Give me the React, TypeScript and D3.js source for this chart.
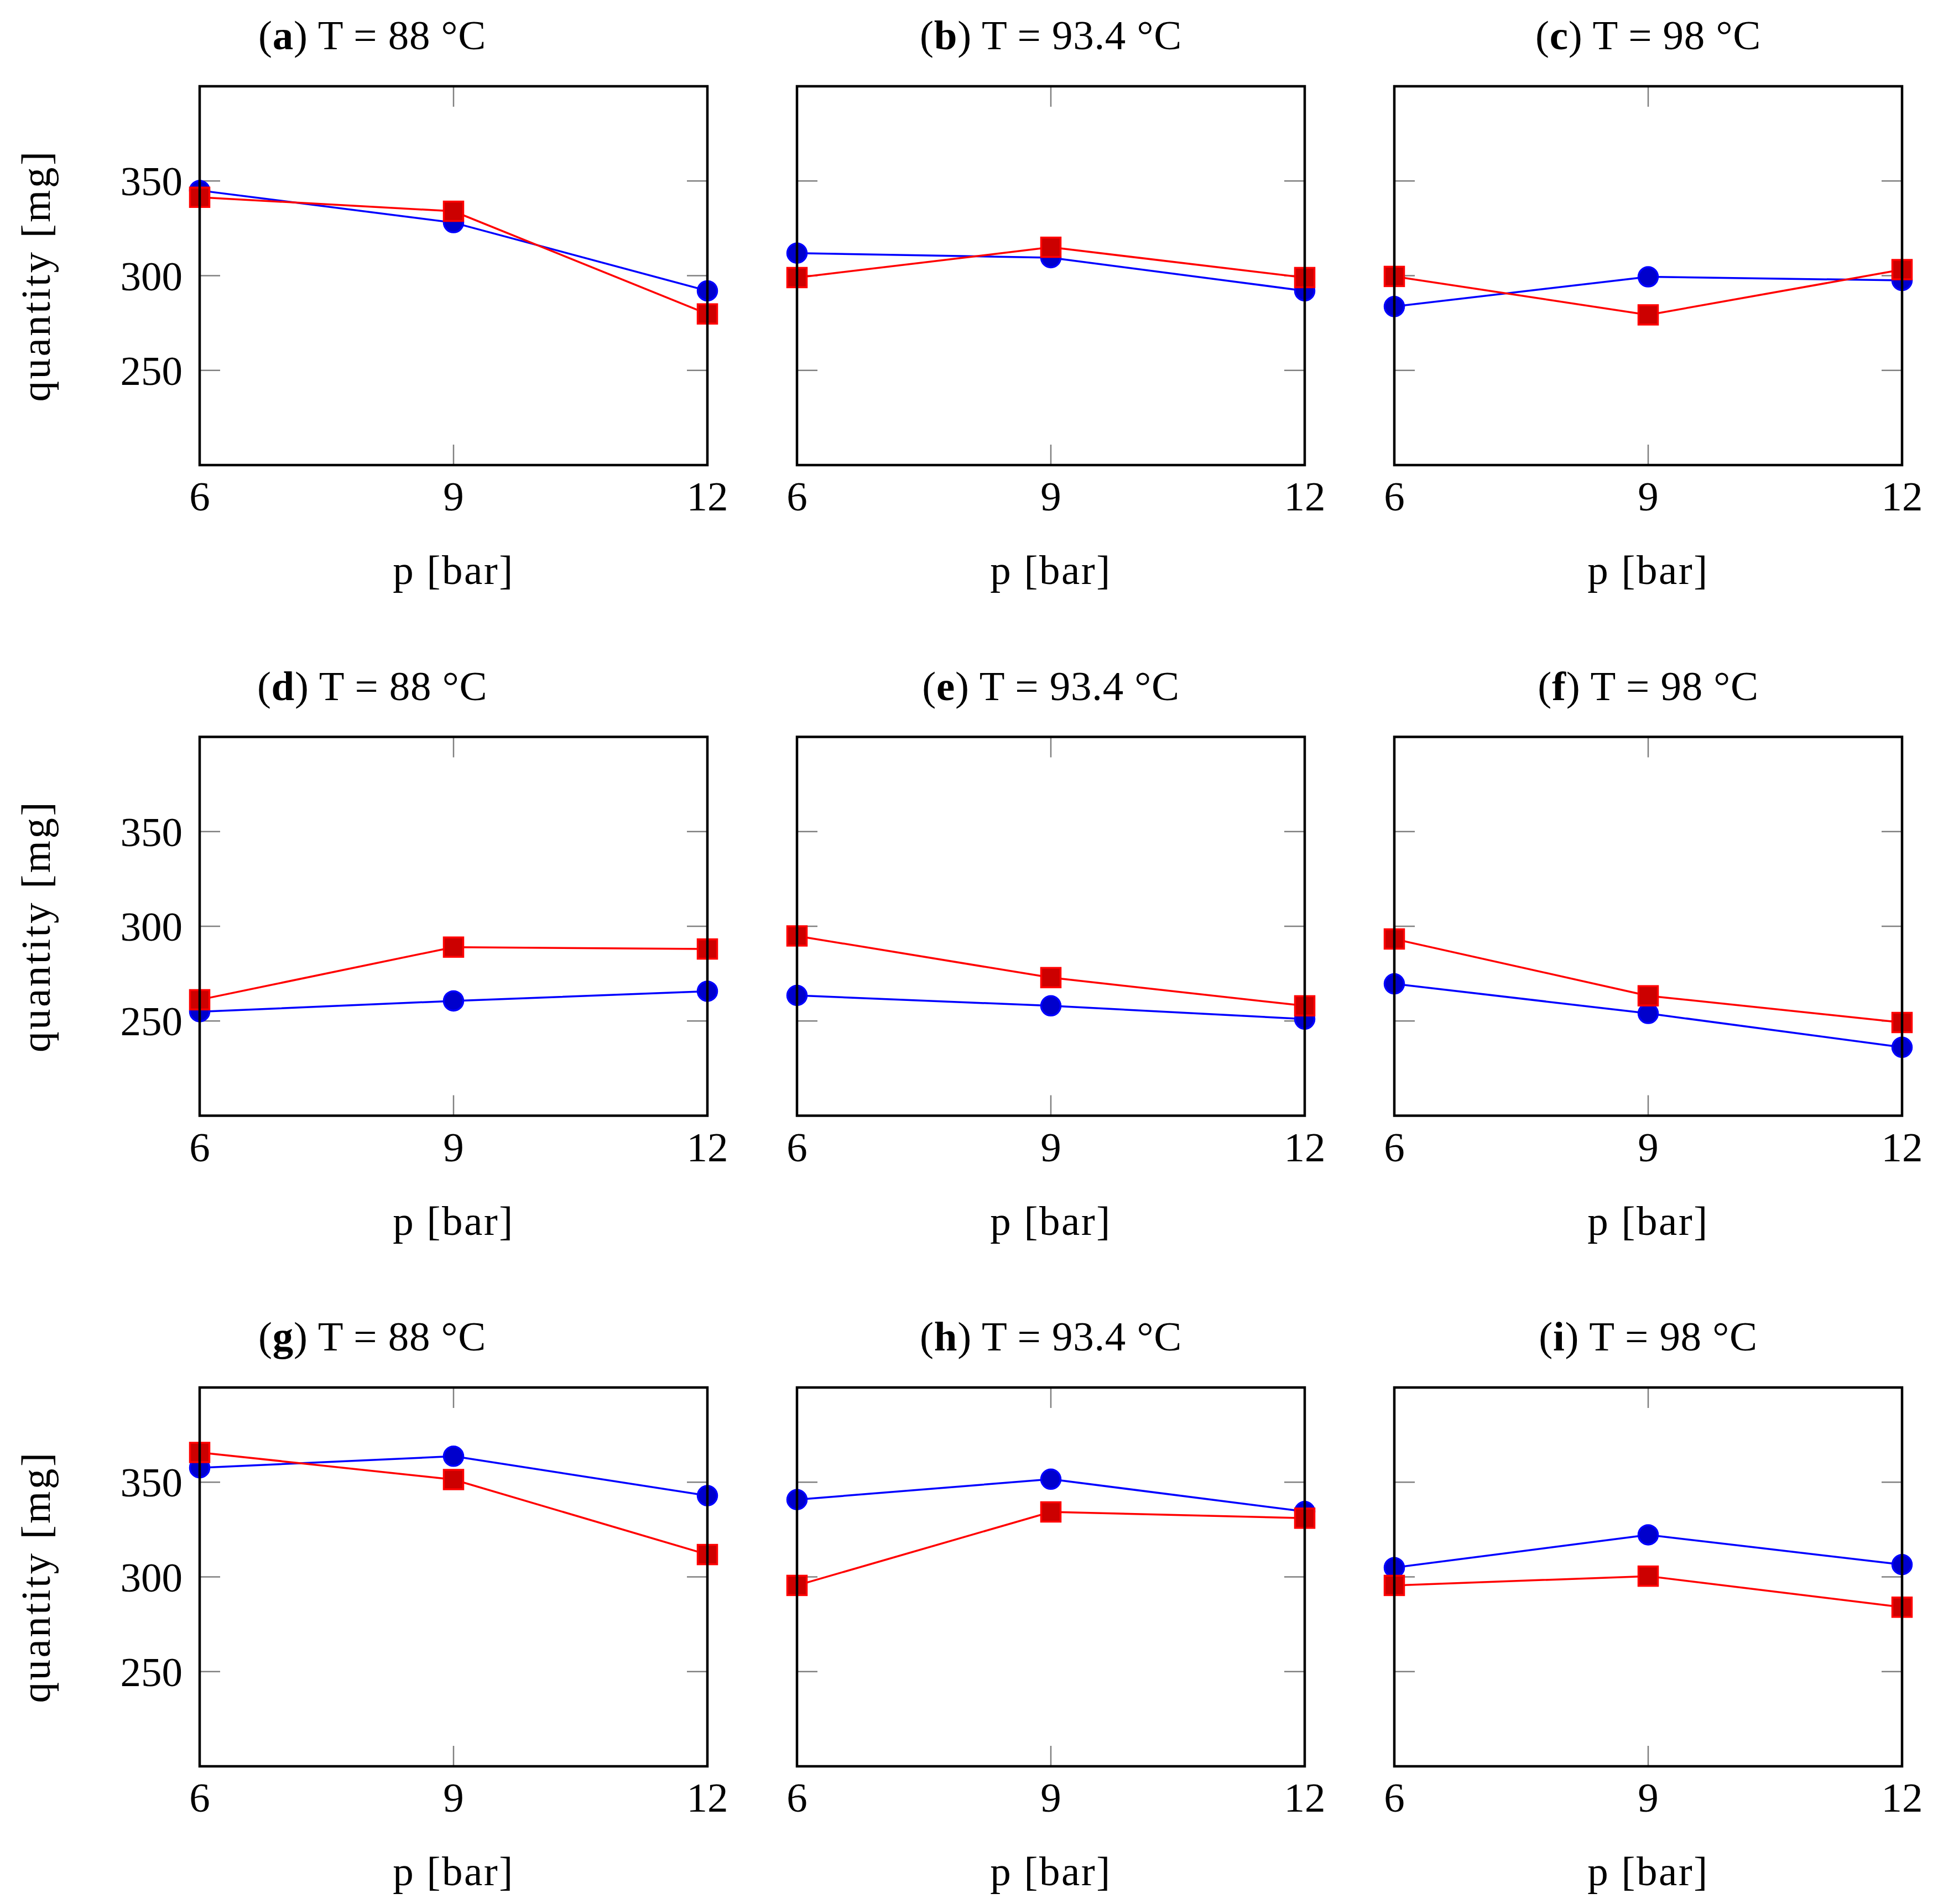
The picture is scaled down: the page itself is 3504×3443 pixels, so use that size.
import * as d3 from "d3";

const pressures = [6, 9, 12];
const yTicks = [250, 300, 350];
const panelLetters = ["a", "b", "c", "d", "e", "f", "g", "h", "i"];
const temperatures = ["88", "93.4", "98"];

// blue circles, one row per panel (a..i), values at p = 6, 9, 12
const blueSeries = [
  [345, 328, 292],
  [311.9, 309.5, 292],
  [283.7, 299.4, 297.5],
  [254.9, 260.6, 265.7],
  [263.5, 258, 251],
  [269.6, 254, 236.1],
  [357.6, 363.7, 342.9],
  [340.8, 351.6, 334.5],
  [304.9, 322.2, 306.5],
];

// red squares
const redSeries = [
  [341.4, 334, 279.8],
  [299, 315, 299],
  [299.6, 279.3, 303.2],
  [261.2, 289, 288],
  [294.9, 272.9, 258],
  [293.3, 263.3, 249.2],
  [365.7, 351.4, 311.8],
  [295.5, 334.3, 331],
  [295.5, 300.4, 284],
];

const W = 3504;
const H = 3443;
const panelW = 918;
const panelH = 685;
const fontSize = 75;
const font = "'Liberation Serif', 'Times New Roman', serif";

function Panel({ idx }) {
  const col = idx % 3;
  const row = Math.floor(idx / 3);
  const left = 361 + col * 1080;
  const top = 156 + row * 1176.5;

  const x = d3.scaleLinear().domain([6, 12]).range([left, left + panelW]);
  const y = d3.scaleLinear().domain([200, 400]).range([top + panelH, top]);

  const line = d3
    .line()
    .x((d, i) => x(pressures[i]))
    .y((d) => y(d));

  const tickLen = 37;
  const titleX = col === 0 ? left + panelW / 2 - 147 : left + panelW / 2;

  return (
    <g>
      <text
        x={titleX}
        y={top - 67}
        textAnchor="middle"
        fontSize={fontSize}
        letterSpacing={0.7}
      >
        (<tspan fontWeight="bold">{panelLetters[idx]}</tspan>) T = {temperatures[col]} °C
      </text>

      {/* ticks */}
      <g stroke="#808080" strokeWidth={2.5}>
        {yTicks.map((t) => (
          <g key={t}>
            <line x1={x(6)} x2={x(6) + tickLen} y1={y(t)} y2={y(t)} />
            <line x1={x(12)} x2={x(12) - tickLen} y1={y(t)} y2={y(t)} />
          </g>
        ))}
        {pressures.map((p) => (
          <g key={p}>
            <line x1={x(p)} x2={x(p)} y1={y(400)} y2={y(400) + tickLen} />
            <line x1={x(p)} x2={x(p)} y1={y(200)} y2={y(200) - tickLen} />
          </g>
        ))}
      </g>

      {/* blue series */}
      <path d={line(blueSeries[idx])} fill="none" stroke="#0000ff" strokeWidth={3.5} />
      {blueSeries[idx].map((v, i) => (
        <circle
          key={i}
          cx={x(pressures[i])}
          cy={y(v)}
          r={17.5}
          fill="#0000cc"
          stroke="#0000ff"
          strokeWidth={3.5}
        />
      ))}

      {/* red series */}
      <path d={line(redSeries[idx])} fill="none" stroke="#ff0000" strokeWidth={3.5} />
      {redSeries[idx].map((v, i) => (
        <rect
          key={i}
          x={x(pressures[i]) - 17.5}
          y={y(v) - 17.5}
          width={35}
          height={35}
          fill="#cc0000"
          stroke="#ff0000"
          strokeWidth={3.5}
        />
      ))}

      {/* frame */}
      <rect
        x={x(6)}
        y={y(400)}
        width={x(12) - x(6)}
        height={y(200) - y(400)}
        fill="none"
        stroke="#000"
        strokeWidth={4.5}
      />

      {/* x tick labels */}
      {pressures.map((p) => (
        <text key={p} x={x(p)} y={y(200) + 82} textAnchor="middle" fontSize={fontSize}>
          {p}
        </text>
      ))}
      <text
        x={left + panelW / 2}
        y={y(200) + 215}
        textAnchor="middle"
        fontSize={fontSize}
        letterSpacing={2.5}
      >
        p [bar]
      </text>

      {col === 0 && (
        <g>
          {yTicks.map((t) => (
            <text key={t} x={x(6) - 31} y={y(t) + 26} textAnchor="end" fontSize={fontSize}>
              {t}
            </text>
          ))}
          <text
            transform={`translate(90,${top + panelH / 2}) rotate(-90)`}
            textAnchor="middle"
            fontSize={fontSize}
            letterSpacing={3.5}
          >
            quantity [mg]
          </text>
        </g>
      )}
    </g>
  );
}

export default function App() {
  return (
    <svg
      width={W}
      height={H}
      viewBox={`0 0 ${W} ${H}`}
      style={{ position: "absolute", left: 0, top: 0, background: "#fff" }}
      fontFamily={font}
    >
      <rect width={W} height={H} fill="#fff" />
      {panelLetters.map((l, i) => (
        <Panel key={l} idx={i} />
      ))}
    </svg>
  );
}
